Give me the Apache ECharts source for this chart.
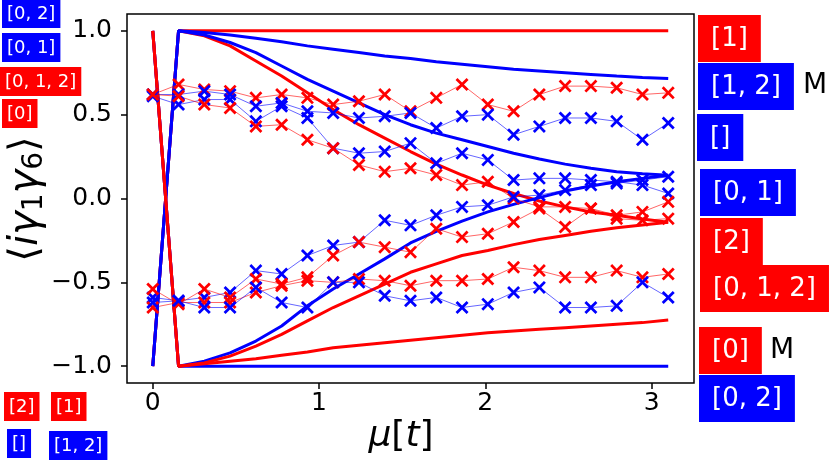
<!DOCTYPE html>
<html>
<head>
<meta charset="utf-8">
<script src="https://cdn.jsdelivr.net/npm/echarts@6/dist/echarts.min.js"></script>
<style>
  html, body { margin: 0; padding: 0; background: #fff; }
  #chart { width: 831px; height: 461px; }
</style>
</head>
<body>
<div id="chart"></div>
<script>
// time grid (mu[t])
var xs = [0, 0.155, 0.31, 0.465, 0.62, 0.775, 0.93, 1.085, 1.24, 1.395, 1.55,
          1.705, 1.86, 2.015, 2.17, 2.325, 2.48, 2.635, 2.79, 2.945, 3.1];
var xTicks = [0, 1, 2, 3];
var yTicks = [-1, -0.5, 0, 0.5, 1];

// exact curves (thick lines)
var redFlatTop   = [-1, 1, 1, 1, 1, 1, 1, 1, 1, 1, 1, 1, 1, 1, 1, 1, 1, 1, 1, 1, 1];
var redDecay     = [-1, 1, 0.97, 0.91, 0.82, 0.73, 0.63, 0.53, 0.44, 0.36, 0.28, 0.205, 0.14, 0.08, 0.03, -0.015, -0.05, -0.08, -0.10, -0.122, -0.142];
var blueSlowTop  = [-1, 1, 0.99, 0.975, 0.955, 0.935, 0.91, 0.89, 0.87, 0.85, 0.835, 0.815, 0.80, 0.785, 0.77, 0.76, 0.75, 0.74, 0.73, 0.722, 0.716];
var blueDecay    = [-1, 1, 0.975, 0.93, 0.87, 0.79, 0.71, 0.64, 0.57, 0.50, 0.44, 0.39, 0.35, 0.31, 0.27, 0.235, 0.205, 0.18, 0.16, 0.148, 0.138];
var blueFlatBot  = [1, -1, -1, -1, -1, -1, -1, -1, -1, -1, -1, -1, -1, -1, -1, -1, -1, -1, -1, -1, -1];
var blueRise     = [1, -1, -0.97, -0.92, -0.85, -0.76, -0.64, -0.54, -0.45, -0.36, -0.265, -0.196, -0.135, -0.08, -0.035, 0.005, 0.045, 0.075, 0.10, 0.12, 0.138];
var redSlowBot   = [1, -1, -0.985, -0.97, -0.955, -0.935, -0.915, -0.89, -0.875, -0.86, -0.845, -0.83, -0.815, -0.80, -0.79, -0.78, -0.77, -0.76, -0.75, -0.74, -0.725];
var redRise      = [1, -1, -0.98, -0.94, -0.88, -0.81, -0.73, -0.65, -0.58, -0.51, -0.44, -0.39, -0.34, -0.31, -0.275, -0.245, -0.22, -0.195, -0.175, -0.158, -0.142];

// measured points (thin lines with x markers)
var redHigh  = [0.62, 0.68, 0.65, 0.64, 0.60, 0.62, 0.60, 0.56, 0.58, 0.62, 0.52, 0.60, 0.68, 0.56, 0.52, 0.62, 0.67, 0.67, 0.66, 0.62, 0.63];
var blueMid  = [0.62, 0.62, 0.64, 0.62, 0.55, 0.57, 0.52, 0.51, 0.48, 0.49, 0.51, 0.42, 0.49, 0.50, 0.38, 0.43, 0.48, 0.48, 0.46, 0.35, 0.45];
var blueDown = [0.61, 0.56, 0.59, 0.59, 0.46, 0.55, 0.48, 0.30, 0.27, 0.28, 0.33, 0.21, 0.27, 0.23, 0.11, 0.12, 0.12, 0.11, 0.10, 0.08, 0.03];
var redDown  = [0.62, 0.61, 0.56, 0.54, 0.43, 0.44, 0.35, 0.30, 0.20, 0.16, 0.18, 0.14, 0.08, 0.10, 0.00, -0.05, -0.05, -0.06, -0.10, -0.08, -0.02];
var blueUp   = [-0.59, -0.61, -0.59, -0.56, -0.43, -0.45, -0.34, -0.28, -0.26, -0.13, -0.16, -0.10, -0.05, -0.04, 0.01, 0.02, 0.05, 0.08, 0.09, 0.11, 0.13];
var redUp    = [-0.54, -0.63, -0.54, -0.59, -0.48, -0.51, -0.47, -0.34, -0.26, -0.29, -0.32, -0.18, -0.23, -0.21, -0.14, -0.06, -0.17, -0.06, -0.12, -0.13, -0.12];
var redLow   = [-0.65, -0.62, -0.62, -0.62, -0.56, -0.52, -0.49, -0.50, -0.48, -0.49, -0.52, -0.49, -0.49, -0.48, -0.41, -0.43, -0.47, -0.47, -0.43, -0.47, -0.45];
var blueLow  = [-0.62, -0.61, -0.65, -0.65, -0.53, -0.62, -0.65, -0.50, -0.50, -0.58, -0.61, -0.59, -0.65, -0.63, -0.56, -0.53, -0.65, -0.65, -0.64, -0.50, -0.59];

var RED = '#ff0000', BLUE = '#0000ff';
var FONT = '"DejaVu Sans", sans-serif';
var crossPath = 'path://M0,1.5L1.5,0L5,3.5L8.5,0L10,1.5L6.5,5L10,8.5L8.5,10L5,6.5L1.5,10L0,8.5L3.5,5Z';

function pairs(vals) {
    return xs.map(function (x, i) { return [x, vals[i]]; });
}
function thick(vals, color) {
    return {
        type: 'line', data: pairs(vals), symbol: 'none', z: 2,
        lineStyle: { color: color, width: 3 }, itemStyle: { color: color },
        emphasis: { disabled: true }, animation: false
    };
}
function marked(vals, color) {
    return {
        type: 'line', data: pairs(vals), symbol: crossPath, symbolSize: 13, z: 3,
        lineStyle: { color: color, width: 1, opacity: 0.6 },
        itemStyle: { color: color, opacity: 1 },
        emphasis: { disabled: true }, animation: false
    };
}

// boxed labels around the plot
function tag(text, color, x, y, size, pad) {
    return {
        type: 'text', left: x, top: y, z: 10,
        style: {
            text: text, fill: '#fff', font: size + 'px ' + FONT,
            backgroundColor: color, padding: pad
        }
    };
}
var big = [11, 13, 10, 13], small = [6, 5, 5, 5];

var chart = echarts.init(document.getElementById('chart'), null, { renderer: 'canvas' });
chart.setOption({
    backgroundColor: '#fff',
    animation: false,
    grid: { left: 127, right: 137, top: 14, bottom: 78, show: true, borderColor: '#000', borderWidth: 1.5 },
    xAxis: {
        type: 'value', min: -0.155, max: 3.255,
        axisLine: { show: false, onZero: false },
        splitLine: { show: false },
        axisTick: { show: true, length: 6, lineStyle: { color: '#000', width: 1.5 }, customValues: xTicks },
        axisLabel: { color: '#000', fontSize: 25, fontFamily: FONT, margin: 8, customValues: xTicks }
    },
    yAxis: {
        type: 'value', min: -1.1, max: 1.1,
        axisLine: { show: false, onZero: false },
        splitLine: { show: false },
        axisTick: { show: true, length: 6, lineStyle: { color: '#000', width: 1.5 }, customValues: yTicks },
        axisLabel: {
            color: '#000', fontSize: 25, fontFamily: FONT, margin: 15, customValues: yTicks,
            formatter: function (v) { return (v < 0 ? '\u2212' : '') + Math.abs(v).toFixed(1); }
        }
    },
    series: [
        thick(redFlatTop, RED), thick(redDecay, RED), thick(blueSlowTop, BLUE), thick(blueDecay, BLUE),
        thick(blueFlatBot, BLUE), thick(blueRise, BLUE), thick(redSlowBot, RED), thick(redRise, RED),
        marked(redHigh, RED), marked(blueMid, BLUE), marked(blueDown, BLUE), marked(redDown, RED),
        marked(blueUp, BLUE), marked(redUp, RED), marked(redLow, RED), marked(blueLow, BLUE)
    ],
    graphic: [
        {
            type: 'text', x: 27, y: 199, rotation: Math.PI / 2,
            style: {
                text: '{b|\u27e8}{i|i\u03b3}{s|1}{i|\u03b3}{s|6}{b|\u27e9}',
                fill: '#000', align: 'center', verticalAlign: 'middle',
                rich: {
                    b: { font: '40px ' + FONT },
                    i: { font: 'italic 40px ' + FONT },
                    s: { font: '28px ' + FONT, padding: [16, 0, 0, 0] }
                }
            }
        },
        {
            type: 'text', x: 401, y: 437,
            style: {
                text: '{i|\u03bc}{n|[}{i|t}{n|]}',
                fill: '#000', align: 'center', verticalAlign: 'middle',
                rich: {
                    i: { font: 'italic 36px ' + FONT },
                    n: { font: '36px ' + FONT }
                }
            }
        },
        tag('[0, 2]', BLUE, 2, -1, 18, small),
        tag('[0, 1]', BLUE, 2, 33, 18, small),
        tag('[0, 1, 2]', RED, 0, 67, 18, small),
        tag('[0]', RED, 2, 99, 18, small),
        tag('[2]', RED, 4, 392, 18, small),
        tag('[1]', RED, 51, 392, 18, small),
        tag('[]', BLUE, 7, 429, 18, small),
        tag('[1, 2]', BLUE, 49, 431, 18, small),
        tag('[1]', RED, 698, 15, 26, big),
        tag('[1, 2]', BLUE, 698, 63, 26, big),
        tag('[]', BLUE, 697, 114, 26, big),
        tag('[0, 1]', BLUE, 700, 169, 26, big),
        tag('[2]', RED, 700, 218, 26, big),
        tag('[0, 1, 2]', RED, 700, 265, 26, big),
        tag('[0]', RED, 699, 327, 26, big),
        tag('[0, 2]', BLUE, 699, 375, 26, big),
        { type: 'text', left: 803, top: 72, style: { text: 'M', fill: '#000', font: '28px ' + FONT } },
        { type: 'text', left: 770, top: 337, style: { text: 'M', fill: '#000', font: '28px ' + FONT } }
    ]
});
</script>
</body>
</html>
